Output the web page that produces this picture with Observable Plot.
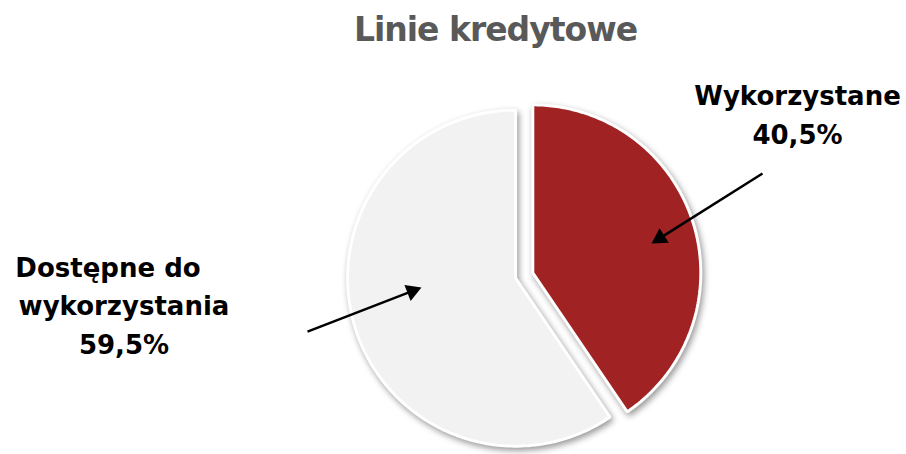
<!DOCTYPE html>
<html><head><meta charset="utf-8">
<script src="https://cdn.jsdelivr.net/npm/d3@7"></script>
<script src="https://cdn.jsdelivr.net/npm/@observablehq/plot@0.6"></script>
<style>
body{margin:0;background:#fff;}
#title{height:62px;box-sizing:border-box;padding:13px 0 0 85px;text-align:center;font-family:"DejaVu Sans";font-weight:bold;font-size:33px;letter-spacing:-1px;color:#595959;line-height:33px;white-space:nowrap;}
</style></head><body>
<div id="title">Linie kredytowe</div>
<div id="chart"></div>
<script>
// ---- data ----
const categories = ["Wykorzystane", "Dostępne do wykorzystania"];
const shares = [40.5, 59.5];
const labelLines = [["Wykorzystane", "40,5%"], ["Dostępne do", "wykorzystania", "59,5%"]];
const colors = ["#A02222", "#F2F2F2"];

// ---- layout (window pixel coordinates) ----
const W = 906, H = 392, TOP = 62;
const cx = 523.7, cy = 275, R = 168, explode = 9;
const lineGap = 38.7;
const annot = [
  {head: [118.7, -29.4], tail: [229.7, -99.4], labelX: 264.7, labelY: -167.4, lineDx: [0, 0]},
  {head: [-94.1, 9.4], tail: [-208.1, 53.4], labelX: -391.6, labelY: -1.6, lineDx: [-16, 0, 0]}
];

const arcs = d3.pie().sort(null).value(d => d)(shares);
const centers = arcs.map(a => {
  const m = (a.startAngle + a.endAngle) / 2;
  return [cx + explode * Math.sin(m), cy - explode * Math.cos(m)];
});

const sliceMarks = arcs.map((a, i) => {
  const [sx, sy] = centers[i];
  const pts = [{x: sx, y: sy}];
  const N = 180;
  for (let k = 0; k <= N; k++) {
    const t = a.startAngle + (a.endAngle - a.startAngle) * k / N;
    pts.push({x: sx + R * Math.sin(t), y: sy - R * Math.cos(t)});
  }
  return Plot.line(pts, {x: "x", y: "y", curve: "linear-closed", fill: colors[i], stroke: "white", strokeWidth: 3, strokeLinejoin: "miter", imageFilter: "drop-shadow(2px 3px 3px rgba(0,0,0,0.4))"});
});

const tip = 10;
const arrows = categories.map((c, i) => {
  const [sx, sy] = centers[i];
  const hx = sx + annot[i].head[0], hy = sy + annot[i].head[1];
  const tx = sx + annot[i].tail[0], ty = sy + annot[i].tail[1];
  const dx = hx - tx, dy = hy - ty, L = Math.hypot(dx, dy);
  const bx = hx - dx / L * tip, by = hy - dy / L * tip;
  return {category: c, tx, ty, bx, by, rot: Math.atan2(dx, -dy) * 180 / Math.PI};
});

const textRows = [];
labelLines.forEach((lines, i) => {
  const [sx, sy] = centers[i];
  lines.forEach((t, j) => textRows.push({text: t, x: sx + annot[i].labelX + annot[i].lineDx[j], y: sy + annot[i].labelY + j * lineGap}));
});

const chart = Plot.plot({
  width: W, height: H,
  margin: 0,
  x: {domain: [0, W], range: [0, W], axis: null},
  y: {domain: [TOP, TOP + H], range: [0, H], axis: null},
  style: {background: "transparent", overflow: "visible"},
  marks: [
    ...sliceMarks,
    Plot.link(arrows, {x1: "tx", y1: "ty", x2: "bx", y2: "by", stroke: "black", strokeWidth: 2.5}),
    Plot.dot(arrows, {x: "bx", y: "by", symbol: "triangle", r: 6.4, rotate: "rot", fill: "black", stroke: "none"}),
    Plot.text(textRows, {x: "x", y: "y", text: "text", textAnchor: "middle", lineAnchor: "bottom", fontSize: 26, fontWeight: "bold", fontFamily: "DejaVu Sans", fill: "black"})
  ]
});
document.getElementById("chart").appendChild(chart);
</script>
</body></html>
